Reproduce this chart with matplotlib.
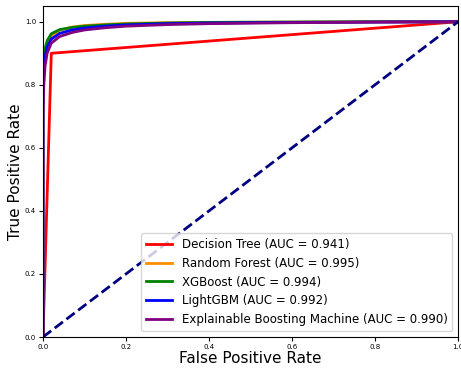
import matplotlib
matplotlib.use("Agg")
import matplotlib.pyplot as plt
import numpy as np

# courbes ROC
fpr_dt = [0.0, 0.02, 1.0]
tpr_dt = [0.0, 0.90, 1.0]

fpr = [0.0, 0.0, 0.002, 0.005, 0.01, 0.02, 0.04, 0.07, 0.1, 0.15, 0.2, 0.3, 0.4, 0.6, 0.8, 1.0]
tpr_rf = [0.0, 0.80, 0.86, 0.90, 0.93, 0.955, 0.973, 0.983, 0.988, 0.992, 0.995, 0.997, 0.998, 0.999, 1.0, 1.0]
tpr_xgb = [0.0, 0.82, 0.88, 0.915, 0.94, 0.962, 0.975, 0.982, 0.986, 0.990, 0.993, 0.996, 0.998, 0.999, 1.0, 1.0]
tpr_lgbm = [0.0, 0.78, 0.85, 0.89, 0.92, 0.945, 0.963, 0.974, 0.980, 0.986, 0.990, 0.994, 0.996, 0.998, 0.999, 1.0]
tpr_ebm = [0.0, 0.72, 0.80, 0.86, 0.90, 0.932, 0.953, 0.966, 0.974, 0.981, 0.986, 0.991, 0.994, 0.997, 0.999, 1.0]

noms = ["Decision Tree", "Random Forest", "XGBoost", "LightGBM", "Explainable Boosting Machine"]
aucs = [0.941, 0.995, 0.994, 0.992, 0.990]
couleurs = ["red", "darkorange", "green", "blue", "purple"]

fig = plt.figure(figsize=(4.61, 3.68), dpi=100)
ax = fig.add_axes([43/461, 31/368, 415/461, 331/368])

courbes = [(fpr_dt, tpr_dt), (fpr, tpr_rf), (fpr, tpr_xgb), (fpr, tpr_lgbm), (fpr, tpr_ebm)]
for (x, y), nom, auc, c in zip(courbes, noms, aucs, couleurs):
    ax.plot(x, y, color=c, lw=2, label=nom + " (AUC = %.3f)" % auc)

ax.plot([0, 1], [0, 1], color="navy", lw=2, linestyle="--")
ax.set_xlim(0.0, 1.0)
ax.set_ylim(0.0, 1.05)
ax.tick_params(labelsize=5, length=3, width=0.8, pad=2)
ax.set_xlabel("False Positive Rate", fontsize=11, labelpad=1)
ax.set_ylabel("True Positive Rate", fontsize=11, labelpad=1)
ax.legend(loc="lower right", fontsize=8.5, handlelength=2.2)

fig.savefig("out.png", dpi=100)
